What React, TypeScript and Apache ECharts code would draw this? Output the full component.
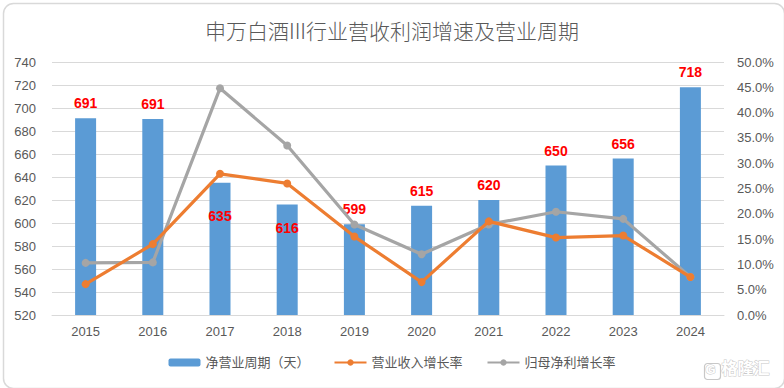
import React, { useEffect, useRef } from "react";
import * as echarts from "echarts";

const years = ["2015", "2016", "2017", "2018", "2019", "2020", "2021", "2022", "2023", "2024"];
const netCycleDays = [691, 690.5, 635, 616, 599, 615, 620, 650, 656, 718];
const revenueGrowth = [6.1, 14.0, 27.9, 26.0, 15.5, 6.5, 18.5, 15.3, 15.7, 7.5];
const profitGrowth = [10.3, 10.4, 44.8, 33.5, 17.9, 12.0, 17.9, 20.4, 19.0, 7.5];
const barLabels = ["691", "691", "635", "616", "599", "615", "620", "650", "656", "718"];
const insideLabelDistance: Record<number, number> = { 2: 26, 3: 16 };

const titleText = "申万白酒III行业营收利润增速及营业周期";
const seriesNames = ["净营业周期（天）", "营业收入增长率", "归母净利增长率"];

const FONT = "'Liberation Sans', 'Noto Sans CJK SC', sans-serif";
const TITLE_FONT = "'Noto Sans CJK SC', sans-serif";

export default function App() {
  const ref = useRef<HTMLDivElement>(null);
  useEffect(() => {
    if (!ref.current) return;
    const chart = echarts.init(ref.current, undefined, { renderer: "svg" });
    const barData = netCycleDays.map((v, i) => {
      const inside = insideLabelDistance[i] !== undefined;
      return {
        value: v,
        label: {
          show: true,
          formatter: barLabels[i],
          position: inside ? "insideTop" : "top",
          distance: inside ? insideLabelDistance[i] : 8,
        },
      };
    });
    chart.setOption({
      animation: false,
      backgroundColor: "#ffffff",
      textStyle: { fontFamily: FONT },
      title: {
        text: titleText,
        left: "center",
        top: 14,
        textStyle: { fontSize: 21, fontWeight: 300, color: "#595959", fontFamily: TITLE_FONT },
      },
      grid: { left: 52, right: 60, top: 62, height: 253 },
      legend: {
        bottom: 14,
        left: "center",
        itemWidth: 32,
        itemHeight: 8,
        itemGap: 24,
        textStyle: { fontSize: 13, color: "#595959", fontFamily: FONT },
        data: seriesNames,
      },
      xAxis: {
        type: "category",
        data: years,
        axisTick: { show: false },
        axisLine: { lineStyle: { color: "#D9D9D9" } },
        axisLabel: { color: "#595959", fontSize: 13, margin: 10 },
      },
      yAxis: [
        {
          type: "value",
          min: 520,
          max: 740,
          interval: 20,
          axisLabel: { color: "#595959", fontSize: 13, margin: 16 },
          splitLine: { lineStyle: { color: "#D9D9D9" } },
          axisLine: { show: false },
          axisTick: { show: false },
        },
        {
          type: "value",
          min: 0,
          max: 50,
          interval: 5,
          axisLabel: {
            color: "#595959",
            fontSize: 13,
            margin: 13,
            formatter: (v: number) => v.toFixed(1) + "%",
          },
          splitLine: { show: false },
          axisLine: { show: false },
          axisTick: { show: false },
        },
      ],
      series: [
        {
          name: seriesNames[0],
          type: "bar",
          data: barData,
          barWidth: 21,
          itemStyle: { color: "#5B9BD5" },
          label: { color: "#FF0000", fontWeight: "bold", fontSize: 14, fontFamily: FONT },
          z: 1,
        },
        {
          name: seriesNames[1],
          type: "line",
          yAxisIndex: 1,
          data: revenueGrowth,
          symbol: "circle",
          symbolSize: 8,
          lineStyle: { width: 3.2, color: "#ED7D31" },
          itemStyle: { color: "#ED7D31" },
          z: 3,
        },
        {
          name: seriesNames[2],
          type: "line",
          yAxisIndex: 1,
          data: profitGrowth,
          symbol: "circle",
          symbolSize: 8,
          lineStyle: { width: 3.2, color: "#A5A5A5" },
          itemStyle: { color: "#A5A5A5" },
          z: 2,
        },
      ],
      graphic: [
        {
          type: "rect",
          left: 1,
          top: 1,
          shape: { width: 781, height: 385, r: 10 },
          style: { fill: "none", stroke: "#D9D9D9", lineWidth: 1.5 },
          silent: true,
          z: -1,
        },
        {
          type: "rect",
          left: 702,
          top: 361,
          shape: { width: 16, height: 16, r: 3 },
          style: { fill: "none", stroke: "#C8C8C8", lineWidth: 1.2 },
          silent: true,
        },
        {
          type: "text",
          left: 705,
          top: 362,
          style: { text: "G", fontSize: 13, fontWeight: "bold", fill: "#ffffff", stroke: "#C8C8C8", lineWidth: 1, fontFamily: FONT },
          silent: true,
        },
        {
          type: "text",
          left: 721,
          top: 360,
          style: { text: "格隆汇", fontSize: 16, fontWeight: "bold", fill: "#ffffff", stroke: "#C8C8C8", lineWidth: 1, fontFamily: FONT },
          silent: true,
        },
      ],
    });
    return () => chart.dispose();
  }, []);
  return (
    <div
      ref={ref}
      style={{ position: "fixed", left: 0, top: 0, width: 784, height: 388 }}
    />
  );
}
